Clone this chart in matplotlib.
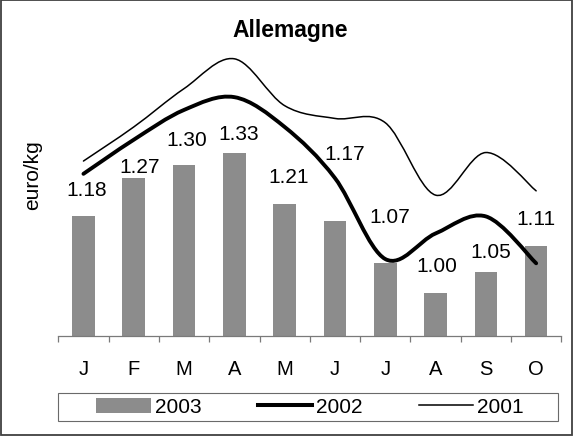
import matplotlib
matplotlib.use("Agg")
import matplotlib.pyplot as plt
from matplotlib.path import Path
from matplotlib.patches import PathPatch, Rectangle, Patch
from matplotlib.lines import Line2D
import numpy as np

plt.rcParams['font.family'] = ['Liberation Sans', 'DejaVu Sans']

# ---- data ----
months = ["J", "F", "M", "A", "M", "J", "J", "A", "S", "O"]
values_2003 = [1.18, 1.27, 1.30, 1.33, 1.21, 1.17, 1.07, 1.00, 1.05, 1.11]
values_2002 = [1.28, 1.36, 1.43, 1.46, 1.39, 1.27, 1.08, 1.14, 1.18, 1.07]
values_2001 = [1.31, 1.39, 1.48, 1.55, 1.44, 1.41, 1.40, 1.23, 1.33, 1.24]
bar_labels = ["1.18", "1.27", "1.30", "1.33", "1.21", "1.17", "1.07", "1.00", "1.05", "1.11"]

# label placement (layout, baseline in data units / x shift in category units)
label_y = [1.230, 1.285, 1.347, 1.361, 1.260, 1.315, 1.167, 1.052, 1.084, 1.162]
label_dx = [0.06, 0.12, 0.05, 0.08, 0.07, 0.20, 0.08, 0.02, 0.10, 0.0]

W, H = 577, 439
fig = plt.figure(figsize=(W / 100, H / 100), dpi=100)
fig.patch.set_facecolor("white")

ax = fig.add_axes([58.3 / W, (H - 336.7) / H, 503 / W, 298.2 / H])
ax.set_xlim(-0.5, len(months) - 0.5)
ax.set_ylim(0.9, 1.6)

x = np.arange(len(months))
ax.bar(x, values_2003, width=0.45, color="#8c8c8c", edgecolor="none", zorder=2)


def smooth_path(xs, ys):
    pts = np.column_stack([xs, ys]).astype(float)
    n = len(pts)
    verts = [pts[0]]
    codes = [Path.MOVETO]
    for i in range(n - 1):
        p0 = pts[i - 1] if i > 0 else pts[i]
        p1 = pts[i]
        p2 = pts[i + 1]
        p3 = pts[i + 2] if i + 2 < n else pts[i + 1]
        c1 = p1 + (p2 - p0) / 6.0
        c2 = p2 - (p3 - p1) / 6.0
        verts += [c1, c2, p2]
        codes += [Path.CURVE4] * 3
    return Path(verts, codes)


ax.add_patch(PathPatch(smooth_path(x, values_2001), fill=False, edgecolor="black",
                       lw=1.1, zorder=3, capstyle="round", joinstyle="round"))
ax.add_patch(PathPatch(smooth_path(x, values_2002), fill=False, edgecolor="black",
                       lw=2.8, zorder=4, capstyle="round", joinstyle="round"))

for i, lab in enumerate(bar_labels):
    ax.text(x[i] + label_dx[i], label_y[i], lab, ha="center", va="baseline",
            fontsize=15, color="black", zorder=5)

for s in ["left", "right", "top"]:
    ax.spines[s].set_visible(False)
ax.spines["bottom"].set_color("#7a7a7a")
ax.spines["bottom"].set_linewidth(0.9)

ax.set_yticks([])
ax.set_xticks(x)
ax.set_xticklabels(months, fontsize=14.5)
ax.set_xticks(np.arange(-0.5, len(months)), minor=True)
ax.tick_params(axis="x", which="major", length=0, pad=17)
ax.tick_params(axis="x", which="minor", length=4.5, width=0.9, color="#7a7a7a", direction="out")

# title & axis label
fig.text(290 / W, (H - 37) / H, "Allemagne", ha="center", va="baseline",
         fontsize=16.5, fontweight="bold")
fig.text(32.5 / W, (H - 175.5) / H, "euro/kg", rotation=90, ha="center", va="center",
         fontsize=15)

# legend
handles = [Patch(facecolor="#8c8c8c", edgecolor="none"),
           Line2D([], [], color="black", lw=2.9),
           Line2D([], [], color="black", lw=1.1)]
leg = fig.legend(handles, ["2003", "2002", "2001"], loc="center",
                 bbox_to_anchor=(310 / W, (H - 408) / H), ncol=3, frameon=False,
                 fontsize=15, handlelength=2.6, handletextpad=0.2, columnspacing=2.7,
                 handleheight=0.7, borderpad=0)
fig.add_artist(Rectangle((58 / W, (H - 422) / H), 500 / W, 28 / H,
                         transform=fig.transFigure, fill=False, edgecolor="#6a6a6a", lw=0.8))

# outer frame
fig.add_artist(Rectangle((1 / W, 3 / H), 571 / W, 435 / H, transform=fig.transFigure,
                         fill=False, edgecolor="#404040", lw=1.3))

fig.savefig("out.png", dpi=100)
